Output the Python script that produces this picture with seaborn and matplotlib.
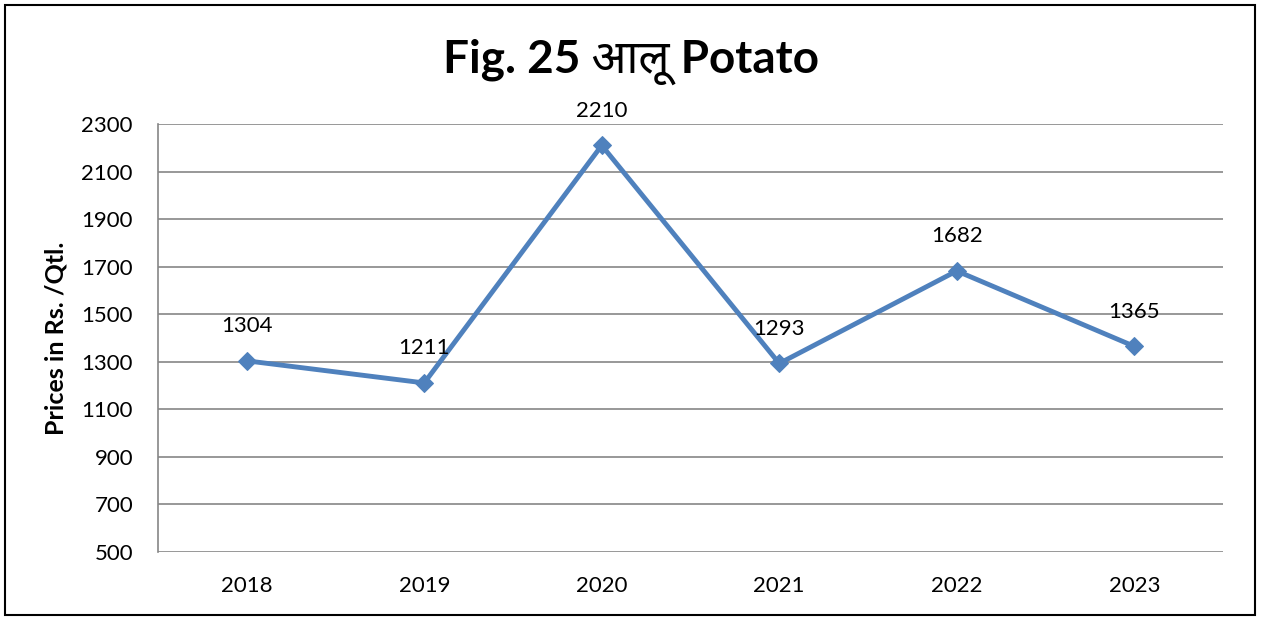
import matplotlib.pyplot as plt
import seaborn as sns
import pandas as pd
from matplotlib.patches import Rectangle

years = ['2018', '2019', '2020', '2021', '2022', '2023']
prices = [1304, 1211, 2210, 1293, 1682, 1365]
yticks = [500, 700, 900, 1100, 1300, 1500, 1700, 1900, 2100, 2300]

df = pd.DataFrame({'year': years, 'price': prices})

sns.set_style('white')
plt.rcParams['font.family'] = ['Lato', 'Noto Sans Devanagari', 'Noto Sans', 'DejaVu Sans']
plt.rcParams['text.color'] = 'black'
plt.rcParams['axes.labelcolor'] = 'black'

fig = plt.figure(figsize=(12.62, 6.19), dpi=100)
ax = fig.add_axes([158 / 1262, 1 - 552 / 619, (1223 - 158) / 1262, (552 - 124) / 619])

line_color = '#4F81BD'
sns.lineplot(data=df, x='year', y='price', ax=ax, color=line_color, linewidth=3.5,
             marker='D', markersize=9, markeredgecolor=line_color, sort=False)

# value labels above each point
for i, v in enumerate(prices):
    ax.annotate(str(v), (i, v), xytext=(0, 25), textcoords='offset points',
                ha='center', va='center', fontsize=16, color='black')

ax.set_xlim(-0.5, len(years) - 0.5)
ax.set_ylim(500, 2300)
ax.set_yticks(yticks)
ax.grid(axis='y', color='#868686', linewidth=1.2)
ax.set_axisbelow(True)
for s in ['top', 'right', 'bottom']:
    ax.spines[s].set_visible(False)
ax.spines['left'].set_color('#868686')
ax.spines['left'].set_linewidth(1.2)
ax.tick_params(axis='both', length=0, labelsize=16, colors='black')
ax.tick_params(axis='y', pad=18)
ax.tick_params(axis='x', pad=17)
ax.set_xlabel('')
ax.set_ylabel('Prices in Rs. /Qtl.', fontsize=18, fontweight='bold', labelpad=10,
              color='black')

fig.text(0.5, 1 - 62 / 619, 'Fig. 25 आलू Potato', ha='center', va='center',
         fontsize=33, fontweight='bold', color='black')

fig.patches.append(Rectangle((5 / 1262, 4 / 619), 1250 / 1262, 610 / 619,
                             transform=fig.transFigure, fill=False,
                             edgecolor='black', linewidth=1.5))

fig.savefig('out.png', dpi=100)
